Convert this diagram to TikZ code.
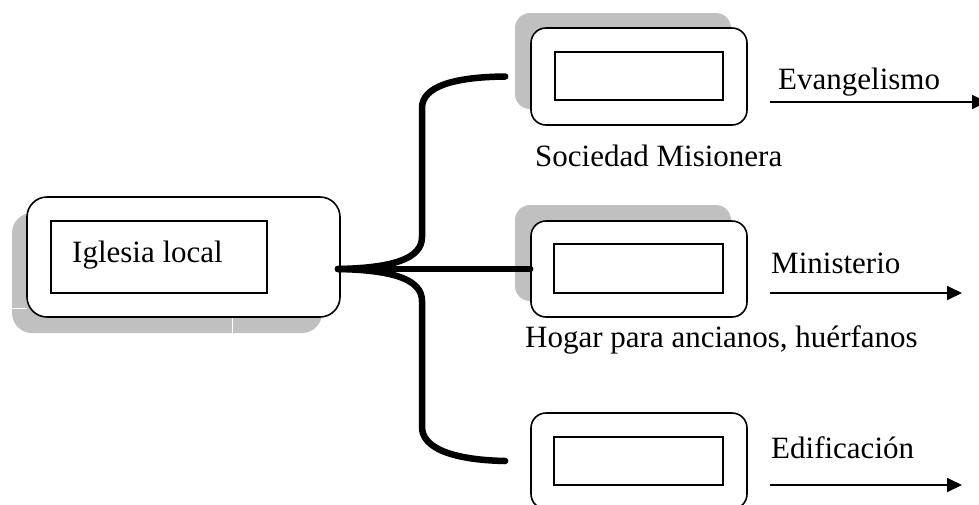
\documentclass[tikz,border=0pt]{standalone}
\usepackage{fontspec}
\setmainfont{Liberation Serif}
\usetikzlibrary{arrows.meta,calc}
\definecolor{shadowgray}{HTML}{C0C0C0}
\begin{document}
\begin{tikzpicture}[x=1pt,y=-1pt,
  every node/.style={font=\fontsize{31}{37}\selectfont},
  shadowbox/.style={fill=shadowgray, draw=none, rounded corners=15pt, minimum width=216pt, minimum height=96pt, inner sep=0pt},
  outerbox/.style={draw, line width=1.6pt, fill=white, rounded corners=15pt, minimum width=216pt, minimum height=96pt, inner sep=0pt},
  innerbox/.style={draw, line width=1.6pt, fill=white, minimum width=168pt, minimum height=48pt, inner sep=0pt},
  lbl/.style={anchor=base west, inner sep=0pt},
  branch/.style={line width=6.5pt, line cap=round},
  outarrow/.style={line width=1.8pt, -{Triangle[length=15pt,width=14pt]}}
]
\useasboundingbox (0,0) rectangle (979,504);

% left box
\node[shadowbox, rounded corners=20pt, minimum width=310pt, minimum height=120pt] (lsh) at (167,273) {};
\draw[white, line width=1pt] (12,308) -- (27,308);
\draw[white, line width=1pt] (232,317) -- (232,333);
\node[outerbox, rounded corners=20pt, minimum width=313pt, minimum height=120pt] (lbox) at (183.5,257) {};
\node[innerbox, minimum width=216pt, minimum height=72pt] (linner) at (159,257) {};
\node[lbl] (ltxt) at (72,262) {Iglesia local};

% top right box
\node[shadowbox] (tsh) at (623,61) {};
\node[outerbox, minimum height=97pt] (tbox) at (639,76.5) {};
\node[innerbox] (tinner) at (639,76) {};

% middle right box
\node[shadowbox] (msh) at (623,253) {};
\node[outerbox] (mbox) at (639,269) {};
\node[innerbox, minimum width=169pt, minimum height=49pt] (minner) at (638.5,268.5) {};

% bottom right box
\node[outerbox] (bbox) at (639,461) {};
\node[innerbox, minimum width=169pt] (binner) at (638.5,461) {};

% labels
\node[lbl] (evtxt) at (778,89) {Evangelismo};
\node[lbl] (sotxt) at (535,166) {Sociedad Misionera};
\node[lbl] (mitxt) at (771,273) {Ministerio};
\node[lbl] (hotxt) at (525,347) {Hogar para ancianos, huérfanos};
\node[lbl] (edtxt) at (771,458) {Edificación};

% connectors
\coordinate (hub) at (338,269);
\coordinate (tend) at ($(tbox.west)+(-25,0)$);
\coordinate (bend) at ($(bbox.west)+(-25,0)$);
\draw[branch] (hub) .. controls (392,268) and (422,259) .. (422,237) -- (422,108)
  .. controls (422,86) and (455,77) .. (tend);
\draw[branch] (hub) -- (mbox.west);
\draw[branch] (hub) .. controls (392,270) and (422,279) .. (422,301) -- (422,427)
  .. controls (422,449) and (455,460) .. (bend);

% output arrows
\coordinate (ta0) at (770,102);
\coordinate (ta1) at (987,102);
\coordinate (ma0) at (770,293);
\coordinate (ma1) at (962,293);
\coordinate (ba0) at (770,485);
\coordinate (ba1) at (962,485);
\draw[outarrow] (ta0) -- (ta1);
\draw[outarrow] (ma0) -- (ma1);
\draw[outarrow] (ba0) -- (ba1);
\end{tikzpicture}
\end{document}
